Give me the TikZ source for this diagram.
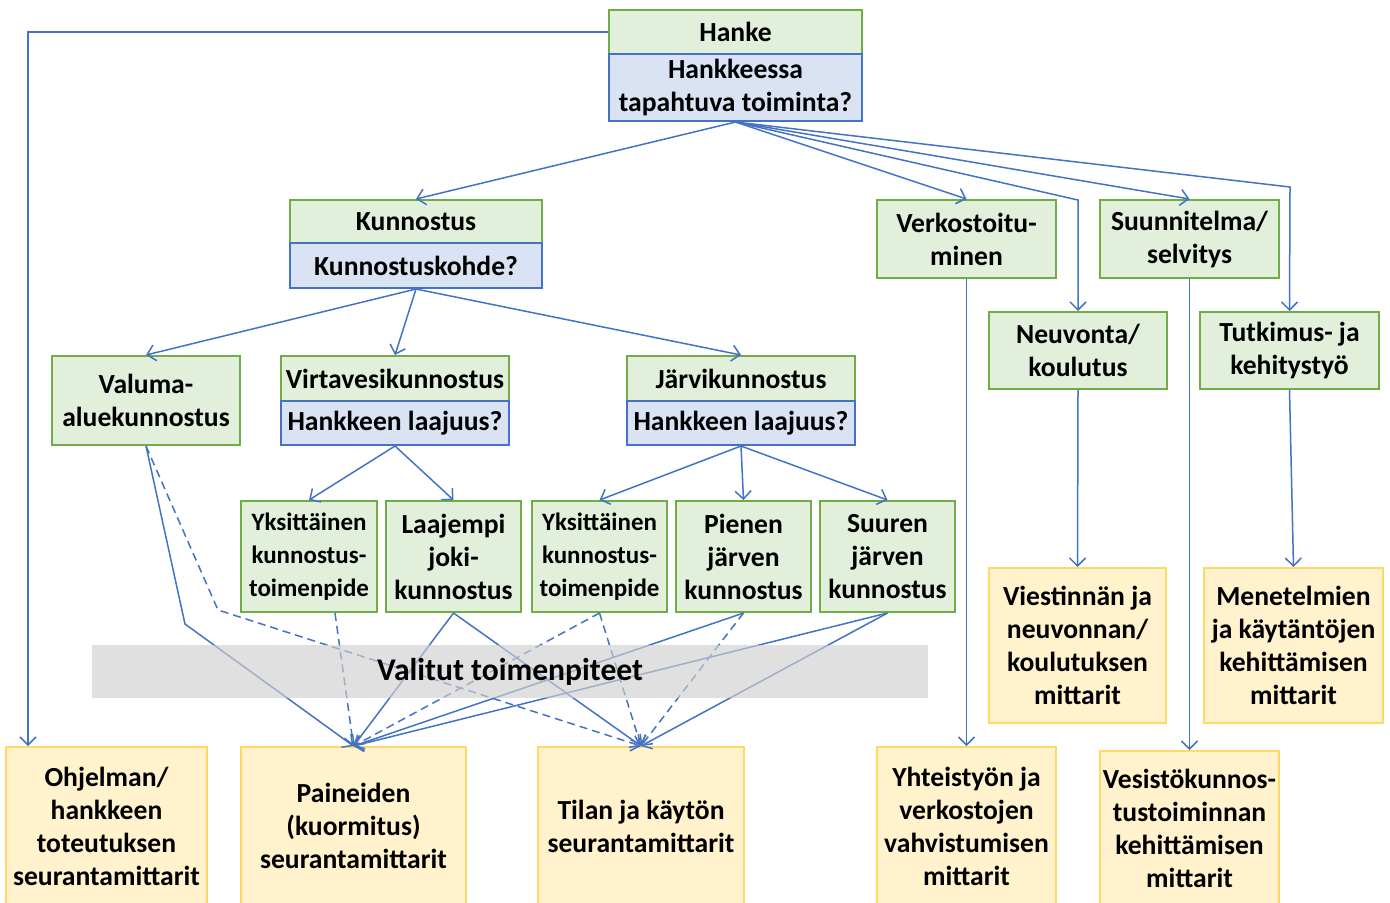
\documentclass[tikz,border=0pt]{standalone}
\usepackage{fontspec}
\setmainfont{Carlito}
\usetikzlibrary{arrows.meta}
\definecolor{gfill}{HTML}{E2EFDA}
\definecolor{gline}{HTML}{70AD47}
\definecolor{bfill}{HTML}{DAE3F3}
\definecolor{bline}{HTML}{4472C4}
\definecolor{yfill}{HTML}{FFF2CC}
\definecolor{yline}{HTML}{FFD966}
\definecolor{bandgray}{HTML}{D0D0D0}
\definecolor{conn}{HTML}{4472C4}
\begin{document}
\begin{tikzpicture}[x=0.5pt,y=-0.5pt,
  every node/.style={font=\fontsize{13.8}{16.5}\selectfont\bfseries, align=center, inner sep=0pt},
  smalltext/.style={font=\fontsize{12.5}{16.5}\selectfont\bfseries},
  gbox/.style={draw=gline, fill=gfill, line width=1pt},
  bbox/.style={draw=bline, fill=bfill, line width=1pt},
  ybox/.style={draw=yline, fill=yfill, line width=1pt},
  link/.style={draw=conn, line width=0.75pt, -{Straight Barb[length=4pt,width=8pt]}},
  dlink/.style={link, dash pattern=on 4pt off 2.5pt},
]
\fill[white] (0,0) rectangle (1390,902);
\path[use as bounding box] (0,0) rectangle (1390,902);

% top: project and its activity
\node[gbox, minimum width=126.5pt, minimum height=22pt] (hanke) at (735.5,32) {Hanke};
\node[bbox, minimum width=126.5pt, minimum height=33.5pt] (hankeq) at (735.5,87.5) {Hankkeessa\\tapahtuva toiminta?};

% restoration branch
\node[gbox, minimum width=126pt, minimum height=21.5pt] (kun) at (416,221.5) {Kunnostus};
\node[bbox, minimum width=126pt, minimum height=22.5pt] (kunq) at (416,265.5) {Kunnostuskohde?};

\node[gbox, minimum width=94pt, minimum height=44.5pt] (valuma) at (146,400.5) {Valuma-\\aluekunnostus};
\node[gbox, minimum width=114pt, minimum height=22.5pt] (virta) at (395,378.5) {Virtavesikunnostus};
\node[bbox, minimum width=114pt, minimum height=22pt] (virtaq) at (395,423) {Hankkeen laajuus?};
\node[gbox, minimum width=114pt, minimum height=22.5pt] (jarvi) at (741,378.5) {Järvikunnostus};
\node[bbox, minimum width=114pt, minimum height=22pt] (jarviq) at (741,423) {Hankkeen laajuus?};

\node[gbox, smalltext, minimum width=68pt, minimum height=55.5pt] (yks1) at (309,556.5) {Yksittäinen\\kunnostus-\\toimenpide};
\node[gbox, minimum width=67.5pt, minimum height=55.5pt] (laaj) at (453.5,556.5) {Laajempi\\joki-\\kunnostus};
\node[gbox, smalltext, minimum width=67.5pt, minimum height=55.5pt] (yks2) at (599.5,556.5) {Yksittäinen\\kunnostus-\\toimenpide};
\node[gbox, minimum width=67.5pt, minimum height=55.5pt] (pien) at (743.5,556.5) {Pienen\\järven\\kunnostus};
\node[gbox, minimum width=67.5pt, minimum height=55.5pt] (suur) at (887.5,556.5) {Suuren\\järven\\kunnostus};

% other activities
\node[gbox, minimum width=89.5pt, minimum height=39pt] (verk) at (966.5,239) {Verkostoitu-\\minen};
\node[gbox, minimum width=89.5pt, minimum height=39pt] (suun) at (1189.5,239) {Suunnitelma/\\selvitys};
\node[gbox, minimum width=89pt, minimum height=38.5pt] (neuv) at (1078,350.5) {Neuvonta/\\koulutus};
\node[gbox, minimum width=89.5pt, minimum height=38.5pt] (tutk) at (1289.5,350.5) {Tutkimus- ja\\kehitystyö};

% indicator boxes
\node[ybox, minimum width=100.5pt, minimum height=79pt] (ohj) at (106.5,826) {Ohjelman/\\hankkeen\\toteutuksen\\seurantamittarit};
\node[ybox, minimum width=112.5pt, minimum height=79pt] (pain) at (353.5,826) {Paineiden\\(kuormitus)\\seurantamittarit};
\node[ybox, minimum width=103pt, minimum height=79pt] (tilan) at (641,826) {Tilan ja käytön\\seurantamittarit};
\node[ybox, minimum width=89.5pt, minimum height=79pt] (yht) at (966.5,826) {Yhteistyön ja\\verkostojen\\vahvistumisen\\mittarit};
\node[ybox, minimum width=89.5pt, minimum height=77pt] (ves) at (1189.5,828) {Vesistökunnos-\\tustoiminnan\\kehittämisen\\mittarit};
\node[ybox, minimum width=88.5pt, minimum height=77.5pt] (viest) at (1077.5,645.5) {Viestinnän ja\\neuvonnan/\\koulutuksen\\mittarit};
\node[ybox, minimum width=89.5pt, minimum height=77.5pt] (menet) at (1293.5,645.5) {Menetelmien\\ja käytäntöjen\\kehittämisen\\mittarit};

% bend points
\coordinate (neuvbend) at (1078,200);
\coordinate (tutkbend) at (1290,187);
\coordinate (valbend) at (185,624);
\coordinate (valdbend) at (218,610);

% connectors from the project
\draw[link] (hanke.west) -| ([xshift=11.5pt]ohj.north west);
\draw[link] (hankeq.south) -- (kun.north);
\draw[link] (hankeq.south) -- (verk.north);
\draw[link] (hankeq.south) -- (neuvbend) -- (neuv.north);
\draw[link] (hankeq.south) -- (suun.north);
\draw[link] (hankeq.south) -- (tutkbend) -- (tutk.north);

\draw[link] (kunq.south) -- (valuma.north);
\draw[link] (kunq.south) -- (virta.north);
\draw[link] (kunq.south) -- (jarvi.north);

\draw[link] (virtaq.south) -- (yks1.north);
\draw[link] (virtaq.south) -- (laaj.north);
\draw[link] (jarviq.south) -- (yks2.north);
\draw[link] (jarviq.south) -- (pien.north);
\draw[link] (jarviq.south) -- (suur.north);

\draw[link] (verk.south) -- (yht.north);
\draw[link] (suun.south) -- (ves.north);
\draw[link] (neuv.south) -- (viest.north);
\draw[link] (tutk.south) -- (menet.north);

% chosen measures to indicators
\draw[link] (valuma.south) -- (valbend) -- (pain.north);
\draw[dlink] (valuma.south) -- (valdbend) -- (tilan.north);
\draw[dlink] ([xshift=13pt]yks1.south) -- (pain.north);
\draw[link] (laaj.south) -- (pain.north);
\draw[link] (laaj.south) -- (tilan.north);
\draw[dlink] (yks2.south) -- (pain.north);
\draw[dlink] (yks2.south) -- (tilan.north);
\draw[link] (pien.south) -- (pain.north);
\draw[dlink] (pien.south) -- (tilan.north);
\draw[link] (suur.south) -- (pain.north);
\draw[link] (suur.south) -- (tilan.north);

% band of selected measures
\node[fill=bandgray, fill opacity=0.65, text opacity=1, minimum width=418pt, minimum height=26.5pt,
      font=\fontsize{15.8}{18}\selectfont\bfseries] (band) at (510,671.5) {Valitut toimenpiteet};
\end{tikzpicture}
\end{document}
